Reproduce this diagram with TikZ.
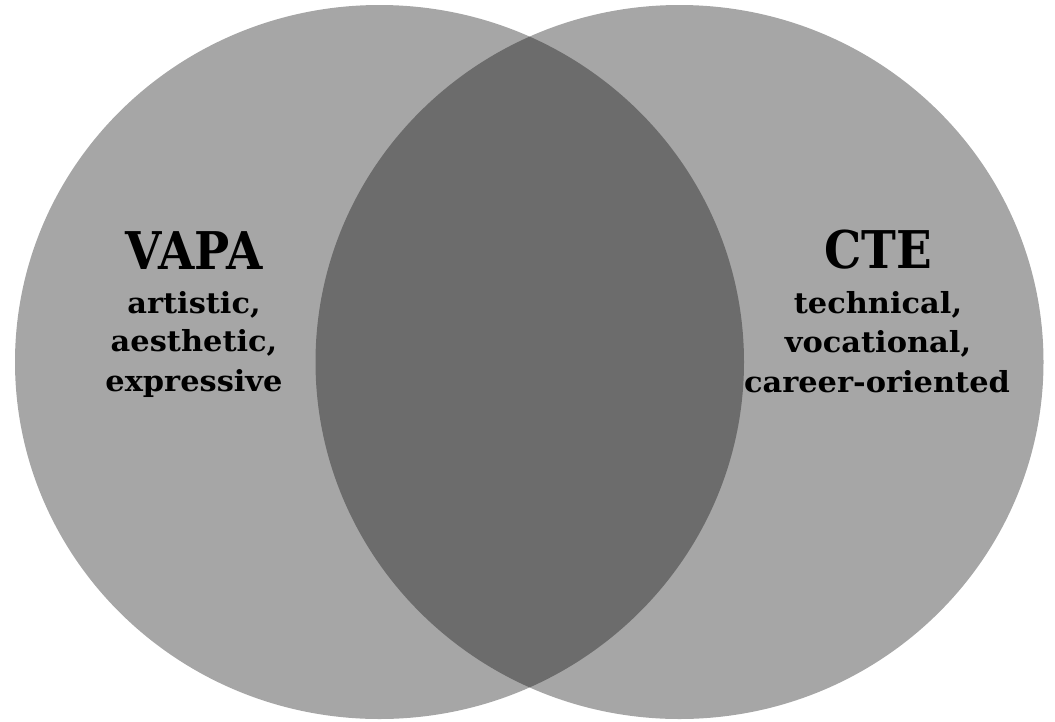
\documentclass[tikz,border=0pt]{standalone}
\usepackage{fontspec}
\setmainfont{DejaVu Serif}
\newfontfamily\titlefont[FakeStretch=0.9]{DejaVu Serif}
\newfontfamily\descfont[FakeStretch=1.05]{DejaVu Serif}
\begin{document}
\begin{tikzpicture}[x=1pt,y=-1pt,
  venn/.style={fill=black, fill opacity=0.35, draw=none},
  title/.style={font=\titlefont\bfseries\fontsize{52}{60}\selectfont, anchor=base, inner sep=0pt, text=black},
  desc/.style={font=\descfont\bfseries\fontsize{29}{34}\selectfont, anchor=base, inner sep=0pt, text=black}]
\useasboundingbox (0,0) rectangle (1055,721);
\fill[venn] (379.5,362) ellipse [x radius=364.5, y radius=357];
\fill[venn] (679.5,362) ellipse [x radius=364, y radius=357];
\node[title] (vapa) at (194,269) {VAPA};
\node[desc] (vapa1) at (194,313) {artistic,};
\node[desc] (vapa2) at (194,351) {aesthetic,};
\node[desc] (vapa3) at (194,391) {expressive};
\node[title] (cte) at (878,268) {CTE};
\node[desc] (cte1) at (878,313) {technical,};
\node[desc] (cte2) at (878,352) {vocational,};
\node[desc] (cte3) at (877,392) {career-oriented};
\end{tikzpicture}
\end{document}
